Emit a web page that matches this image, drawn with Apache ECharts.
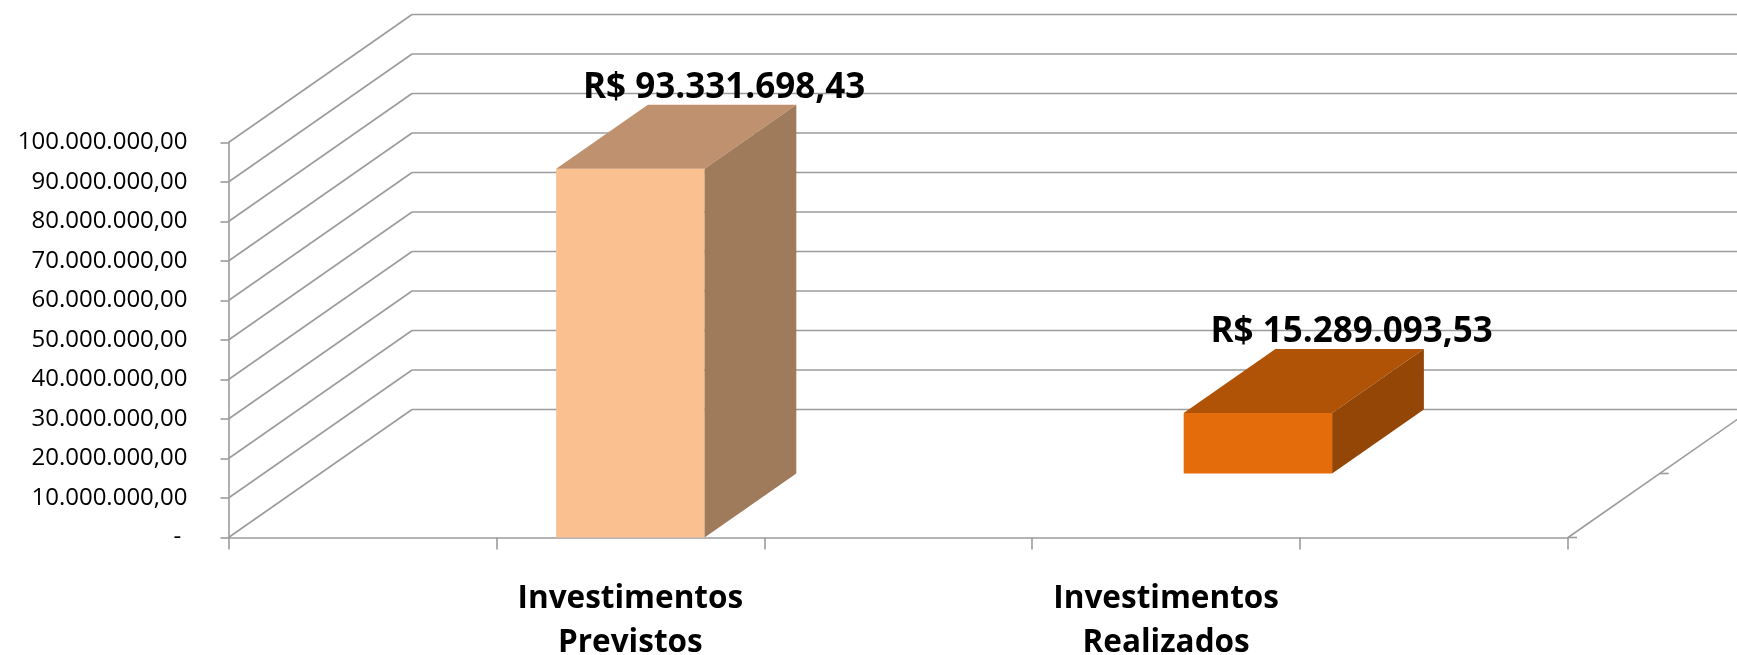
<!DOCTYPE html>
<html>
<head>
<meta charset="utf-8">
<script src="https://cdn.jsdelivr.net/npm/echarts@6/dist/echarts.min.js"></script>
<style>
html,body{margin:0;padding:0;background:#fff;}
#chart{width:1737px;height:655px;}
</style>
</head>
<body>
<div id="chart"></div>
<script>
// ---- data ----
const categories = ['', 'Investimentos\nPrevistos', '', 'Investimentos\nRealizados', ''];
const seriesNames = ['Investimentos Previstos', 'Investimentos Realizados'];
const previstosValues = [null, 93331698.43, null, null, null];
const realizadosValues = [null, null, null, 15289093.53, null];
const yTickValues = [0, 10000000, 20000000, 30000000, 40000000, 50000000, 60000000, 70000000, 80000000, 90000000, 100000000];

// ---- projection / style constants ----
const DEPTH = [183.5, -128];   // floor depth vector (px)
const ROW = 0.5;               // each series row takes half the depth
const BAR_RATIO = 0.554;       // bar width relative to slot
const GRID_COLOR = '#9c9c9c';
const FONT = '"Open Sans", "DejaVu Sans", sans-serif';

function fmtBR(v, d) {
  const s = Math.abs(v).toFixed(d);
  const parts = s.split('.');
  const ip = parts[0].replace(/\B(?=(\d{3})+(?!\d))/g, '.');
  return (v < 0 ? '-' : '') + (parts[1] ? ip + ',' + parts[1] : ip);
}

function line(x1, y1, x2, y2) {
  return { type: 'line', shape: { x1, y1, x2, y2 }, style: { stroke: GRID_COLOR, lineWidth: 1.6 } };
}

function renderWall(params, api) {
  const v = api.value(1);
  const cs = params.coordSys;
  const y = api.coord([0, v])[1];
  const x0 = cs.x, x1 = cs.x + cs.width;
  const children = [
    line(x0, y, x0 + DEPTH[0], y + DEPTH[1]),
    line(x0 + DEPTH[0], y + DEPTH[1], x1 + DEPTH[0] + 40, y + DEPTH[1])
  ];
  if (v === 0) {
    children.push(line(x1, y, x1 + DEPTH[0] * 1.2, y + DEPTH[1] * 1.2));
    for (let k = 0; k <= 2; k++) {
      const px = x1 + k * DEPTH[0] * ROW, py = y + k * DEPTH[1] * ROW;
      children.push(line(px, py, px + 9, py));
    }
  }
  return { type: 'group', children };
}

function makeBarRender(row, colors) {
  return function (params, api) {
    const idx = api.value(0), v = api.value(1);
    const slot = api.size([1, 0])[0];
    const w = slot * BAR_RATIO;
    const base = api.coord([idx, 0]);
    const top = api.coord([idx, v]);
    const dx = DEPTH[0] * ROW, dy = DEPTH[1] * ROW;
    const ox = row * dx, oy = row * dy;
    const xl = base[0] - w / 2 + ox, xr = base[0] + w / 2 + ox;
    const yb = base[1] + oy, yt = top[1] + oy;
    return {
      type: 'group',
      children: [
        { type: 'rect', shape: { x: xl, y: yt, width: w, height: yb - yt }, style: { fill: colors[0] } },
        { type: 'polygon', shape: { points: [[xl, yt], [xr, yt], [xr + dx, yt + dy], [xl + dx, yt + dy]] }, style: { fill: colors[1] } },
        { type: 'polygon', shape: { points: [[xr, yt], [xr + dx, yt + dy], [xr + dx, yb + dy], [xr, yb]] }, style: { fill: colors[2] } },
        { type: 'text', style: {
            text: 'R$ ' + fmtBR(v, 2),
            x: (xl + xr) / 2 + dx + 2, y: yt + dy - 17,
            align: 'center', verticalAlign: 'middle',
            fill: '#000', font: 'bold 35px ' + FONT
          } }
      ]
    };
  };
}

function toData(arr) {
  const out = [];
  arr.forEach((v, i) => { if (v != null) out.push([i, v]); });
  return out;
}

const chart = echarts.init(document.getElementById('chart'), null, { renderer: 'canvas' });
chart.setOption({
  animation: false,
  backgroundColor: '#fff',
  grid: { left: 228.5, top: 142.5, width: 1339.5, height: 395, containLabel: false, outerBoundsMode: 'none' },
  xAxis: {
    type: 'category',
    data: categories,
    boundaryGap: true,
    axisLine: { show: true, lineStyle: { color: GRID_COLOR, width: 1.6 } },
    axisTick: { show: true, interval: 0, length: 12, lineStyle: { color: GRID_COLOR, width: 1.6 } },
    axisLabel: { interval: 0, margin: 40, color: '#000', fontFamily: FONT, fontWeight: 'bold', fontSize: 31.5, lineHeight: 44, hideOverlap: false },
    splitLine: { show: false }
  },
  yAxis: {
    type: 'value',
    min: 0, max: 100000000, interval: 10000000,
    axisLine: { show: true, lineStyle: { color: GRID_COLOR, width: 1.6 } },
    axisTick: { show: true, length: 8, lineStyle: { color: GRID_COLOR, width: 1.6 } },
    axisLabel: {
      margin: 41, color: '#000', fontFamily: FONT, fontSize: 24,
      formatter: v => v === 0 ? '- ' : fmtBR(v, 2)
    },
    splitLine: { show: false }
  },
  series: [
    { type: 'custom', name: 'walls', z: 1, silent: true, encode: { x: 0, y: 1 },
      data: yTickValues.map(v => [0, v]), renderItem: renderWall },
    { type: 'custom', name: seriesNames[0], z: 3, encode: { x: 0, y: 1 },
      data: toData(previstosValues), renderItem: makeBarRender(0, ['#FAC090', '#BF916E', '#A07B5B']) },
    { type: 'custom', name: seriesNames[1], z: 2, encode: { x: 0, y: 1 },
      data: toData(realizadosValues), renderItem: makeBarRender(1, ['#E46C0A', '#B05306', '#944606']) }
  ]
});
</script>
</body>
</html>
